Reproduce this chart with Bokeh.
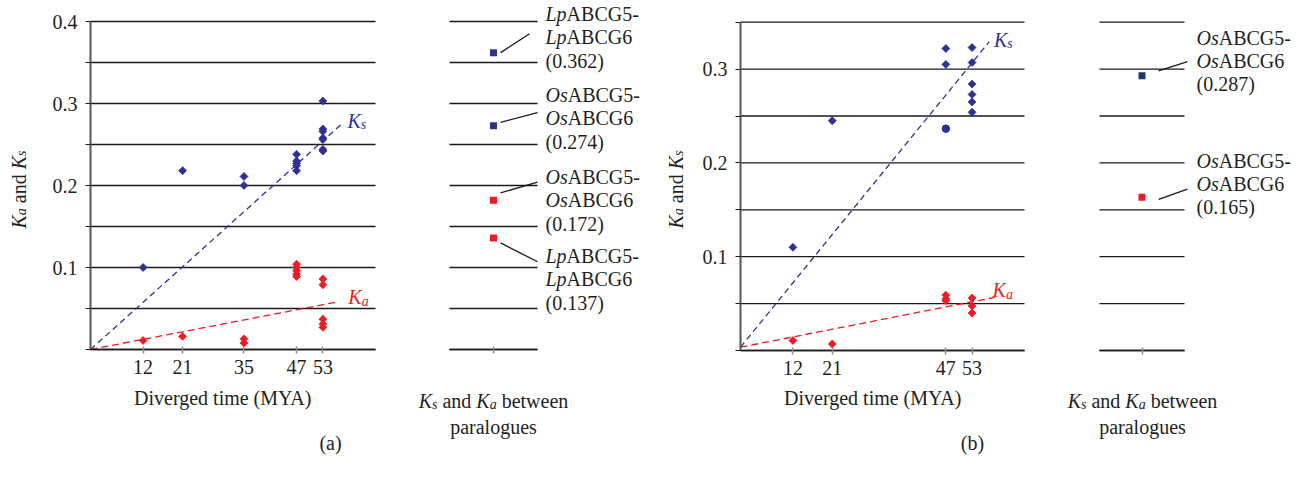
import math
from bokeh.plotting import figure
from bokeh.models import Range1d, FixedTicker, Label, LinearAxis
from bokeh.embed import file_html
from bokeh.resources import INLINE

# ---------------- data ----------------
x_ticks_a = [12, 21, 35, 47, 53]
x_ticks_b = [12, 21, 47, 53]
y_major_a = [0.1, 0.2, 0.3, 0.4]
y_minor_a = [0, 0.05, 0.15, 0.25, 0.35]
y_major_b = [0.1, 0.2, 0.3]
y_minor_b = [0, 0.05, 0.15, 0.25, 0.35]

ks_a_x = [12, 21, 35, 35, 47, 47, 47, 47, 47, 53, 53, 53, 53, 53, 53, 53]
ks_a_y = [0.100, 0.218, 0.211, 0.200, 0.238, 0.230, 0.227, 0.224, 0.218,
          0.303, 0.269, 0.266, 0.258, 0.256, 0.244, 0.242]
ka_a_x = [12, 21, 35, 35, 47, 47, 47, 47, 47, 53, 53, 53, 53, 53]
ka_a_y = [0.011, 0.016, 0.013, 0.008, 0.104, 0.100, 0.096, 0.092, 0.089,
          0.086, 0.079, 0.037, 0.031, 0.027]

ks_b_x = [12, 21, 47, 47, 53, 53, 53, 53, 53, 53]
ks_b_y = [0.110, 0.245, 0.322, 0.305, 0.323, 0.307, 0.284, 0.273, 0.265, 0.254]
ks_b_circle_x = [47]
ks_b_circle_y = [0.2365]
ka_b_x = [12, 21, 47, 47, 47, 53, 53, 53]
ka_b_y = [0.0106, 0.007, 0.059, 0.055, 0.053, 0.056, 0.0475, 0.040]

# regression lines (intercept, slope, end x)
ks_a_fit = (0.0, 0.0048, 57.5)
ka_a_fit = (0.0, 0.00103, 56.3)
ks_b_fit = (0.0035, 0.00572, 56.9)
ka_b_fit = (0.0035, 0.000914, 58.2)

# paralogue panels
leg_a_vals = [0.362, 0.273, 0.182, 0.136]
leg_a_kind = ["Ks", "Ks", "Ka", "Ka"]
leg_a_prefix = ["Lp", "Os", "Os", "Lp"]
leg_a_text = ["0.362", "0.274", "0.172", "0.137"]

leg_b_vals = [0.293, 0.1635]
leg_b_kind = ["Ks", "Ka"]
leg_b_prefix = ["Os", "Os"]
leg_b_text = ["0.287", "0.165"]

# ---------------- style / layout ----------------
FONT = "Liberation Serif"
BLUE = "#2e3192"
RED = "#ed1c24"
NAVY = "#1f3864"
INK = "#231f20"
GRID = "#1a1a1a"
MAIN = 20
SUB = 14
W, H = 1296, 482
SHIFT = 8  # correction so that the requested pixel is the text baseline

# pixel anchors of each panel: (pixel of value0, value0, pixel of value1, value1)
XA = (90, 0, 375, 65)
XLA = (449, 0, 537, 2)
XB = (740, 0, 1024, 65)
XLB = (1099, 0, 1184, 2)
YA = (349, 0, 21, 0.4)
YB = (350, 0, 21.7, 0.35)

leg_a_label_base = [21, 102, 184, 263]      # pixel baseline of first label line
leg_b_label_base = [45, 168]
leg_a_lead = [(0.362, 1.16, 0.385, 1.82), (0.277, 1.16, 0.289, 2.0),
              (0.191, 1.16, 0.204, 2.0), (0.130, 1.16, 0.107, 2.0)]
leg_b_lead = [(0.298, 1.39, 0.308, 2.07), (0.161, 1.39, 0.172, 2.07)]

W_ROMAN = {" ": 250, "(": 333, ")": 333, "-": 333, ".": 250, "A": 722, "B": 667,
           "C": 667, "D": 722, "G": 722, "K": 722, "M": 889, "Y": 722, "a": 444,
           "b": 500, "d": 500, "e": 444, "g": 500, "i": 278, "l": 278, "m": 778,
           "n": 500, "o": 500, "p": 500, "r": 333, "s": 389, "t": 278, "u": 500,
           "v": 500, "w": 722}
W_ITAL = {"K": 667, "L": 556, "O": 722, "p": 500, "a": 500, "s": 389}


def rng_x(a):
    p0, v0, p1, v1 = a
    k = (v1 - v0) / (p1 - p0)
    return Range1d(start=v0 - p0 * k, end=v0 + (W - p0) * k)


def rng_y(a):
    p0, v0, p1, v1 = a
    k = (v1 - v0) / (p1 - p0)
    return Range1d(start=v0 + (H - p0) * k, end=v0 - p0 * k)


p = figure(width=W, height=H, x_range=Range1d(0, W), y_range=Range1d(H, 0),
           x_axis_location=None, y_axis_location=None, min_border=0,
           output_backend="svg", toolbar_location=None, title=None)
p.xgrid.visible = False
p.ygrid.visible = False
p.outline_line_color = None
p.background_fill_color = "white"
p.border_fill_color = "white"
p.extra_x_ranges = {"xa": rng_x(XA), "xla": rng_x(XLA), "xb": rng_x(XB), "xlb": rng_x(XLB)}
p.extra_y_ranges = {"ya": rng_y(YA), "yb": rng_y(YB)}


def text_width(s, size, italic):
    tbl = W_ITAL if italic else W_ROMAN
    return sum(tbl.get(c, W_ROMAN.get(c, 500)) for c in s) * size / 1000.0


def add_runs(runs, x, y, align="left", color=INK, rotated=False, xr="default", yr="default"):
    sizes = [SUB if sub else MAIN for (_, _, sub) in runs]
    widths = [text_width(t, s, it) for (t, it, sub), s in zip(runs, sizes)]
    total = sum(widths)
    cum = -total / 2 if align == "center" else 0
    for (t, it, sub), s, w in zip(runs, sizes, widths):
        lead = text_width(t[:len(t) - len(t.lstrip())], s, it)
        common = dict(x=x, y=y, x_range_name=xr, y_range_name=yr, text=t.strip(),
                      text_font=FONT, text_font_size=f"{s}px",
                      text_font_style="italic" if it else "normal",
                      text_color=color, text_align="left", text_baseline="alphabetic")
        if rotated:
            lab = Label(x_offset=-SHIFT + (3 if sub else 0), y_offset=cum + lead,
                        angle=math.pi / 2, **common)
        else:
            lab = Label(x_offset=cum + lead, y_offset=SHIFT - (4 if sub else 0), **common)
        p.add_layout(lab)
        cum += w


def x_axis(xr, yr, ticks, hi, hide_labels=False):
    ax = LinearAxis(x_range_name=xr, y_range_name=yr, fixed_location=0, bounds=(0, hi),
                    ticker=FixedTicker(ticks=ticks, minor_ticks=[]))
    ax.axis_line_color = GRID
    ax.axis_line_width = 1.3
    ax.major_tick_line_color = "#8c8c8c"
    ax.major_tick_line_width = 1.5
    ax.major_tick_in = 3
    ax.major_tick_out = 4
    ax.minor_tick_line_color = None
    ax.major_label_text_font = FONT
    ax.major_label_text_font_size = f"{MAIN}px"
    ax.major_label_text_color = INK
    ax.major_label_standoff = 6
    if hide_labels:
        ax.major_label_overrides = {t: "" for t in ticks}
    p.add_layout(ax, "below")


def y_axis(xr, yr, major, minor, top):
    ax = LinearAxis(x_range_name=xr, y_range_name=yr, fixed_location=0, bounds=(0, top),
                    ticker=FixedTicker(ticks=major, minor_ticks=minor))
    ax.axis_line_color = "#555555"
    ax.axis_line_width = 2
    ax.major_tick_line_color = GRID
    ax.major_tick_in = 0
    ax.major_tick_out = 5
    ax.minor_tick_line_color = GRID
    ax.minor_tick_in = 0
    ax.minor_tick_out = 5
    ax.major_label_text_font = FONT
    ax.major_label_text_font_size = f"{MAIN}px"
    ax.major_label_text_color = INK
    ax.major_label_standoff = 8
    p.add_layout(ax, "left")


def grid_lines(xr, yr, levels, x1):
    n = len(levels)
    p.segment(x0=[0] * n, x1=[x1] * n, y0=levels, y1=levels, line_color=GRID,
              line_width=1.3, x_range_name=xr, y_range_name=yr)


def fit_line(fit, color, dash, xr, yr):
    b0, b1, xe = fit
    p.line([0, xe], [b0, b0 + b1 * xe], line_color=color, line_dash=dash, line_width=1.3,
           x_range_name=xr, y_range_name=yr)


def diamonds(xs, ys, color, xr, yr):
    p.scatter(xs, ys, marker="square", angle=math.pi / 4, size=5.6,
              fill_color=color, line_color=color, line_width=0.8,
              x_range_name=xr, y_range_name=yr)


def y_title(x, y):
    add_runs([("K", True, False), ("a", True, True), (" and ", False, False),
              ("K", True, False), ("s", True, True)], x, y, rotated=True)


def paralogue_title(x, y1, y2):
    add_runs([("K", True, False), ("s", True, True), (" and ", False, False),
              ("K", True, False), ("a", True, True), (" between", False, False)],
             x, y1, align="center")
    add_runs([("paralogues", False, False)], x, y2, align="center")


# ---------------- panel (a) ----------------
grid_lines("xa", "ya", sorted(y_major_a + y_minor_a), 65)
y_axis("xa", "ya", y_major_a, y_minor_a, 0.4)
x_axis("xa", "ya", x_ticks_a, 65)
fit_line(ks_a_fit, BLUE, "6 4", "xa", "ya")
fit_line(ka_a_fit, RED, "7 4", "xa", "ya")
diamonds(ks_a_x, ks_a_y, BLUE, "xa", "ya")
diamonds(ka_a_x, ka_a_y, RED, "xa", "ya")
add_runs([("K", True, False), ("s", True, True)], 58.6, 0.2695, color=BLUE, xr="xa", yr="ya")
add_runs([("K", True, False), ("a", True, True)], 58.8, 0.0537, color=RED, xr="xa", yr="ya")
y_title(26, 228)
add_runs([("Diverged time (MYA)", False, False)], 223.5, 405, align="center")
add_runs([("(a)", False, False)], 330, 450, align="center")

# paralogues (a)
grid_lines("xla", "ya", sorted(y_major_a + y_minor_a), 2)
x_axis("xla", "ya", [1], 2, hide_labels=True)
for v, k in zip(leg_a_vals, leg_a_kind):
    p.scatter([1], [v], marker="square", size=7, fill_color=BLUE if k == "Ks" else RED,
              line_color=None, x_range_name="xla", y_range_name="ya")
for y0, x0, y1, x1 in leg_a_lead:
    p.line([x0, x1], [y0, y1], line_color=GRID, line_width=1.3,
           x_range_name="xla", y_range_name="ya")
for base, pre, txt in zip(leg_a_label_base, leg_a_prefix, leg_a_text):
    add_runs([(pre, True, False), ("ABCG5-", False, False)], 545, base)
    add_runs([(pre, True, False), ("ABCG6", False, False)], 545, base + 23.5)
    add_runs([(f"({txt})", False, False)], 545, base + 47)
paralogue_title(493, 408, 434)

# ---------------- panel (b) ----------------
grid_lines("xb", "yb", sorted(y_major_b + y_minor_b), 65)
y_axis("xb", "yb", y_major_b, y_minor_b, 0.35)
x_axis("xb", "yb", x_ticks_b, 65)
fit_line(ks_b_fit, BLUE, "6 4", "xb", "yb")
fit_line(ka_b_fit, RED, "7 4", "xb", "yb")
diamonds(ks_b_x, ks_b_y, BLUE, "xb", "yb")
p.scatter(ks_b_circle_x, ks_b_circle_y, marker="circle", size=7.5,
          fill_color=BLUE, line_color=BLUE, x_range_name="xb", y_range_name="yb")
diamonds(ka_b_x, ka_b_y, RED, "xb", "yb")
add_runs([("K", True, False), ("s", True, True)], 58.0, 0.3227, color=BLUE, xr="xb", yr="yb")
add_runs([("K", True, False), ("a", True, True)], 57.7, 0.0556, color=RED, xr="xb", yr="yb")
y_title(683, 228)
add_runs([("Diverged time (MYA)", False, False)], 873.5, 405, align="center")
add_runs([("(b)", False, False)], 972, 450, align="center")

# paralogues (b)
grid_lines("xlb", "yb", sorted(y_major_b + y_minor_b), 2)
x_axis("xlb", "yb", [1], 2, hide_labels=True)
for v, k in zip(leg_b_vals, leg_b_kind):
    p.scatter([1], [v], marker="square", size=7, fill_color=NAVY if k == "Ks" else RED,
              line_color=None, x_range_name="xlb", y_range_name="yb")
for y0, x0, y1, x1 in leg_b_lead:
    p.line([x0, x1], [y0, y1], line_color=GRID, line_width=1.3,
           x_range_name="xlb", y_range_name="yb")
for base, pre, txt in zip(leg_b_label_base, leg_b_prefix, leg_b_text):
    add_runs([(pre, True, False), ("ABCG5-", False, False)], 1196, base)
    add_runs([(pre, True, False), ("ABCG6", False, False)], 1196, base + 23)
    add_runs([(f"({txt})", False, False)], 1196, base + 46)
paralogue_title(1142, 408, 434)

open("out.html", "w").write(file_html(p, INLINE))
